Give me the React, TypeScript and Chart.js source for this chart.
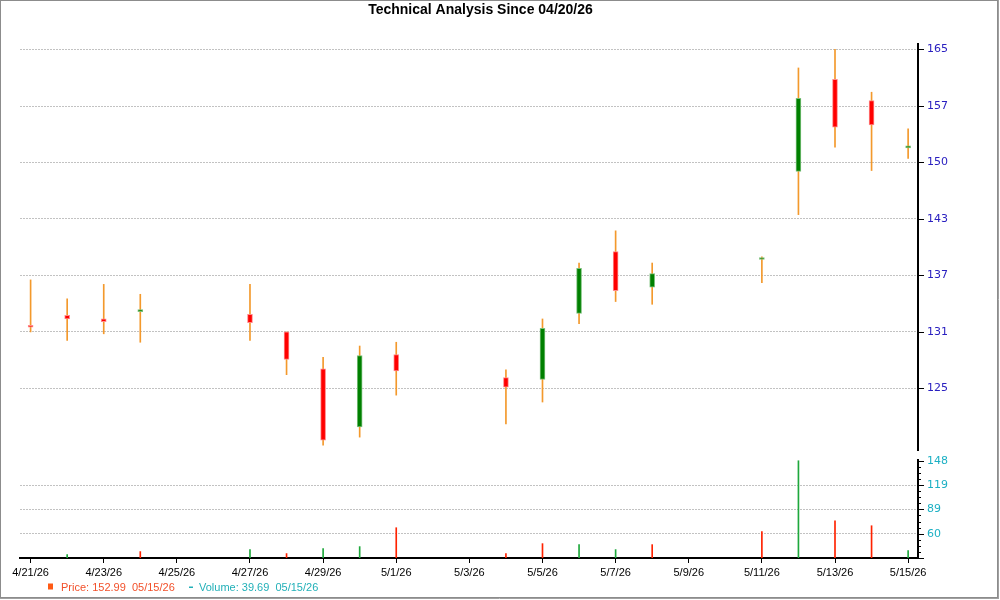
import React, { useEffect, useRef } from 'react';
import { Chart, registerables } from 'chart.js';

Chart.register(...registerables);

const TITLE = 'Technical Analysis Since 04/20/26';

const TRADING_DATES = ['4/21/26', '4/22/26', '4/23/26', '4/24/26', '4/27/26', '4/28/26', '4/29/26', '4/30/26', '5/1/26', '5/4/26', '5/5/26', '5/6/26', '5/7/26', '5/8/26', '5/11/26', '5/12/26', '5/13/26', '5/14/26', '5/15/26'];
const DAY_OFFSETS = [0, 1, 2, 3, 6, 7, 8, 9, 10, 13, 14, 15, 16, 17, 20, 21, 22, 23, 24];

const OPEN = [131.05, 132.3, 131.9, 132.7, 132.4, 130.5, 126.6, 120.7, 128.1, 125.7, 125.5, 132.5, 139.4, 135.4, 138.5, 148.9, 160.6, 157.8, 151.8];
const HIGH = [136.2, 134.1, 135.7, 134.6, 135.7, 130.5, 127.8, 129.0, 129.4, 126.5, 131.9, 138.1, 141.8, 138.1, 138.8, 162.1, 164.6, 158.9, 154.2];
const LOW = [130.5, 129.6, 130.3, 129.4, 129.6, 126.0, 118.9, 119.7, 123.9, 121.0, 123.2, 131.4, 133.8, 133.5, 135.9, 143.7, 151.9, 149.0, 150.5];
const CLOSE = [131.0, 131.9, 131.6, 132.75, 131.5, 127.6, 119.4, 128.0, 126.4, 124.7, 130.9, 137.5, 135.0, 136.9, 138.55, 158.1, 154.4, 154.7, 151.85];

const VOLUME = [29, 34.8, 29, 38.4, 40.8, 36, 42, 44.4, 67.2, 36, 48, 46.8, 40.8, 46.8, 62.4, 148, 75.6, 69.6, 39.69];
const VOLUME_UP = [true, true, false, false, true, false, true, true, false, false, false, true, true, false, false, true, false, false, true];

const X_TICK_OFFSETS = [0, 2, 4, 6, 8, 10, 12, 14, 16, 18, 20, 22, 24];
const X_TICK_LABELS = ['4/21/26', '4/23/26', '4/25/26', '4/27/26', '4/29/26', '5/1/26', '5/3/26', '5/5/26', '5/7/26', '5/9/26', '5/11/26', '5/13/26', '5/15/26'];

const PRICE_TICK_VALUES = [124.6, 130.5, 136.7, 143.2, 150.0, 157.1, 164.6];
const PRICE_TICK_LABELS = ['125', '131', '137', '143', '150', '157', '165'];

const VOLUME_TICK_VALUES = [60, 89.33, 118.67, 148];
const VOLUME_TICK_LABELS = ['60', '89', '119', '148'];

const LEGEND_PRICE = 'Price: 152.99  05/15/26';
const LEGEND_VOLUME = 'Volume: 39.69  05/15/26';

const X_MIN = -0.29;
const X_MAX = 24.27;
const PRICE_MIN = 118.44;
const PRICE_MAX = 165.32;
const VOLUME_MIN = 30.67;
const VOLUME_MAX = 148.9;

const SANS = '"Liberation Sans", Arial, sans-serif';
const AXIS_FONT = '"DejaVu Sans", Verdana, sans-serif';
const GRID_COLOR = '#c2c2c2';

const decorPlugin = {
  id: 'decor',
  afterDraw(chart: any) {
    const ctx = chart.ctx;
    const area = chart.chartArea;
    const yP = chart.scales.y;
    const yV = chart.scales.yv;
    ctx.save();
    // frame
    ctx.strokeStyle = '#8c8c8c';
    ctx.lineWidth = 1;
    ctx.strokeRect(0.5, 0.5, 997, 597);
    ctx.strokeStyle = '#a0a0a0';
    ctx.beginPath();
    ctx.moveTo(998.5, 0);
    ctx.lineTo(998.5, 599);
    ctx.moveTo(0, 598.5);
    ctx.lineTo(999, 598.5);
    ctx.stroke();

    // y tick marks
    ctx.strokeStyle = '#000';
    ctx.lineWidth = 1;
    const xr = Math.round(area.right);
    ctx.beginPath();
    PRICE_TICK_VALUES.forEach((v) => {
      const py = Math.round(yP.getPixelForValue(v)) + 0.5;
      ctx.moveTo(xr, py);
      ctx.lineTo(xr + 6, py);
    });
    const step = (VOLUME_TICK_VALUES[1] - VOLUME_TICK_VALUES[0]) / 4;
    let k = 0;
    for (let v = VOLUME_TICK_VALUES[0] - 4 * step; v <= VOLUME_MAX + 0.01; v += step, k++) {
      const py = Math.round(yV.getPixelForValue(v)) + 0.5;
      const len = k % 4 === 0 ? 6 : 3;
      ctx.moveTo(xr, py);
      ctx.lineTo(xr + len, py);
    }
    ctx.stroke();

    // title
    ctx.fillStyle = '#000';
    ctx.font = 'bold 14px ' + SANS;
    ctx.textAlign = 'center';
    ctx.textBaseline = 'middle';
    ctx.fillText(TITLE, 480.5, 10.5);

    // legend
    ctx.font = '11px ' + SANS;
    ctx.textAlign = 'left';
    ctx.fillStyle = '#ff5a14';
    ctx.fillRect(48, 583.5, 5, 6);
    ctx.fillStyle = '#f2502a';
    ctx.fillText(LEGEND_PRICE, 61, 587.5);
    ctx.fillStyle = '#22b0b8';
    ctx.fillRect(189, 586.5, 4, 1.5);
    ctx.fillText(LEGEND_VOLUME, 199, 587.5);
    ctx.restore();
  },
};

export default function App() {
  const ref = useRef<HTMLCanvasElement | null>(null);

  useEffect(() => {
    if (!ref.current) return;
    const wickData = DAY_OFFSETS.map((x, i) => ({ x, y: [LOW[i], HIGH[i]] }));
    const bodyData = DAY_OFFSETS.map((x, i) => ({ x, y: [OPEN[i], CLOSE[i]] }));
    const bodyColors = OPEN.map((o, i) => (CLOSE[i] >= o ? '#008000' : '#ff0000'));
    const bodyBorders = OPEN.map((o, i) => (CLOSE[i] >= o ? '#7cc07c' : '#ff8a8a'));
    const volData = DAY_OFFSETS.map((x, i) => ({ x, y: VOLUME[i] > VOLUME_MIN ? [VOLUME_MIN, VOLUME[i]] : null }));
    const volColors = VOLUME_UP.map((u) => (u ? '#1ea83c' : '#ff2200'));

    const chart = new Chart(ref.current, {
      type: 'bar',
      data: {
        datasets: [
          {
            label: 'wick',
            data: wickData as any,
            xAxisID: 'x',
            yAxisID: 'y',
            backgroundColor: '#f3992c',
            barThickness: 1,
            grouped: false,
            order: 3,
          } as any,
          {
            label: 'body',
            data: bodyData as any,
            xAxisID: 'x',
            yAxisID: 'y',
            backgroundColor: bodyColors,
            borderColor: bodyBorders,
            borderWidth: 1,
            borderSkipped: false,
            barThickness: 5,
            minBarLength: 2,
            grouped: false,
            order: 1,
          } as any,
          {
            label: 'volume',
            data: volData as any,
            xAxisID: 'x',
            yAxisID: 'yv',
            backgroundColor: volColors,
            barThickness: 1,
            grouped: false,
            order: 2,
          } as any,
        ],
      },
      options: {
        responsive: false,
        animation: false,
        events: [],
        layout: { padding: { left: 20, top: 44, right: 0, bottom: 0 } },
        plugins: {
          legend: { display: false },
          tooltip: { enabled: false },
          title: { display: false },
        },
        scales: {
          x: {
            type: 'linear',
            position: 'bottom',
            min: X_MIN,
            max: X_MAX,
            offset: false,
            afterBuildTicks: (s: any) => {
              s.ticks = X_TICK_OFFSETS.map((v) => ({ value: v }));
            },
            afterFit: (s: any) => {
              s.height = 42;
            },
            grid: { display: true, drawOnChartArea: false, drawTicks: true, tickLength: 5, tickColor: '#000', offset: false },
            border: { display: true, color: '#000', width: 2 },
            ticks: {
              autoSkip: false,
              maxRotation: 0,
              padding: 3,
              color: '#000',
              font: { family: SANS, size: 11 },
              callback: (_v: any, i: number) => X_TICK_LABELS[i],
            },
          },
          y: {
            type: 'logarithmic',
            position: 'right',
            stack: 'panels',
            stackWeight: 406,
            min: PRICE_MIN,
            max: PRICE_MAX,
            afterBuildTicks: (s: any) => {
              s.ticks = PRICE_TICK_VALUES.map((v) => ({ value: v }));
            },
            afterFit: (s: any) => {
              s.width = 82;
            },
            grid: { color: GRID_COLOR, lineWidth: 1, drawTicks: false },
            border: { display: true, color: '#000', width: 2, dash: [2, 1] },
            ticks: {
              autoSkip: false,
              padding: 9,
              color: '#2a20c0',
              font: { family: AXIS_FONT, size: 11 },
              callback: (_v: any, i: number) => PRICE_TICK_LABELS[i],
            },
          },
          gap: {
            type: 'linear',
            position: 'right',
            stack: 'panels',
            stackWeight: 10,
            display: true,
            afterFit: (s: any) => {
              s.width = 82;
            },
            grid: { display: false, drawTicks: false },
            border: { display: false },
            ticks: { display: false },
          },
          yv: {
            type: 'linear',
            position: 'right',
            stack: 'panels',
            stackWeight: 98,
            min: VOLUME_MIN,
            max: VOLUME_MAX,
            afterBuildTicks: (s: any) => {
              s.ticks = VOLUME_TICK_VALUES.map((v) => ({ value: v }));
            },
            afterFit: (s: any) => {
              s.width = 82;
            },
            grid: {
              color: (c: any) => (c.tick && c.tick.value >= 148 ? 'rgba(0,0,0,0)' : GRID_COLOR),
              lineWidth: 1,
              drawTicks: false,
            },
            border: { display: true, color: '#000', width: 2, dash: [2, 1] },
            ticks: {
              autoSkip: false,
              padding: 9,
              color: '#1cb0c4',
              font: { family: AXIS_FONT, size: 11 },
              callback: (_v: any, i: number) => VOLUME_TICK_LABELS[i],
            },
          },
        } as any,
      },
      plugins: [decorPlugin],
    });
    return () => chart.destroy();
  }, []);

  return (
    <div style={{ position: 'absolute', left: 0, top: 0, width: 1000, height: 600, background: '#fff' }}>
      <canvas ref={ref} width={1000} height={600} style={{ display: 'block' }} />
    </div>
  );
}
